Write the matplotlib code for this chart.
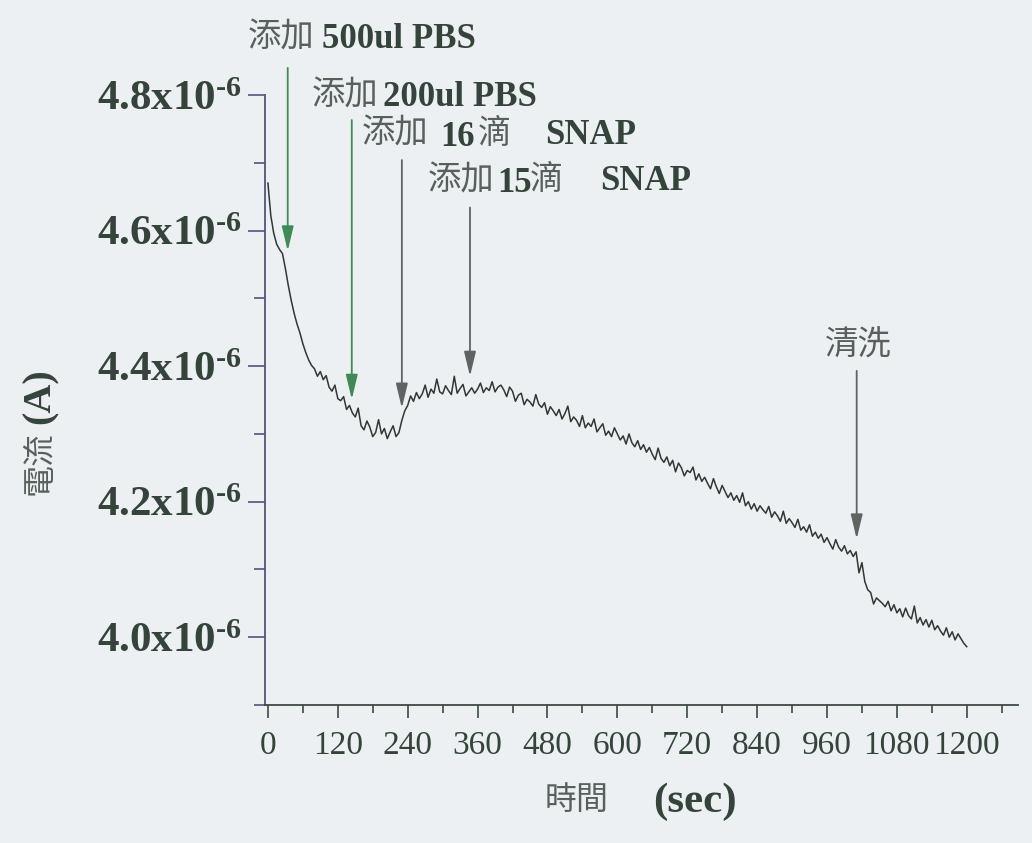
import numpy as np
import matplotlib
matplotlib.use('Agg')
import matplotlib.pyplot as plt
import matplotlib.ticker as mticker

# 時間軸 (sec)，每 5 秒一點
times = np.arange(0, 1201, 5)

# 電流 (單位 10^-6 A)
current_ua = [
    4.670, 4.622, 4.596, 4.580, 4.572, 4.566, 4.544, 4.519, 4.497, 4.478,
    4.462, 4.449, 4.433, 4.420, 4.409, 4.401, 4.396, 4.385, 4.392, 4.380,
    4.386, 4.369, 4.363, 4.372, 4.352, 4.349, 4.355, 4.336, 4.342, 4.331,
    4.325, 4.338, 4.312, 4.306, 4.319, 4.310, 4.296, 4.302, 4.321, 4.300,
    4.308, 4.293, 4.303, 4.312, 4.296, 4.302, 4.320, 4.334, 4.342, 4.356,
    4.348, 4.361, 4.352, 4.359, 4.372, 4.354, 4.366, 4.360, 4.381, 4.362,
    4.359, 4.371, 4.364, 4.358, 4.385, 4.360, 4.367, 4.373, 4.356, 4.362,
    4.368, 4.360, 4.366, 4.375, 4.361, 4.368, 4.364, 4.377, 4.362, 4.369,
    4.372, 4.365, 4.355, 4.369, 4.363, 4.348, 4.357, 4.360, 4.343, 4.351,
    4.347, 4.341, 4.358, 4.344, 4.339, 4.346, 4.329, 4.340, 4.334, 4.327,
    4.336, 4.322, 4.330, 4.341, 4.318, 4.325, 4.320, 4.311, 4.327, 4.309,
    4.316, 4.311, 4.322, 4.303, 4.309, 4.315, 4.298, 4.304, 4.296, 4.309,
    4.300, 4.291, 4.297, 4.285, 4.300, 4.287, 4.281, 4.290, 4.277, 4.284,
    4.273, 4.280, 4.270, 4.262, 4.279, 4.264, 4.258, 4.266, 4.253, 4.261,
    4.244, 4.257, 4.250, 4.238, 4.246, 4.243, 4.251, 4.232, 4.241, 4.230,
    4.236, 4.227, 4.219, 4.234, 4.222, 4.212, 4.224, 4.215, 4.206, 4.213,
    4.202, 4.209, 4.199, 4.213, 4.194, 4.200, 4.189, 4.197, 4.186, 4.194,
    4.188, 4.183, 4.193, 4.177, 4.185, 4.179, 4.171, 4.186, 4.168, 4.175,
    4.169, 4.162, 4.174, 4.158, 4.163, 4.155, 4.166, 4.149, 4.155, 4.146,
    4.152, 4.140, 4.147, 4.138, 4.130, 4.144, 4.133, 4.127, 4.135, 4.123,
    4.128, 4.119, 4.126, 4.095, 4.110, 4.082, 4.070, 4.066, 4.049, 4.058,
    4.054, 4.050, 4.045, 4.053, 4.039, 4.048, 4.036, 4.042, 4.030, 4.043,
    4.032, 4.027, 4.046, 4.021, 4.029, 4.018, 4.026, 4.015, 4.025, 4.011,
    4.017, 4.009, 4.003, 4.014, 4.000, 4.008, 3.996, 4.005, 3.998, 3.991,
    3.986,
]

# 事件標記：時間、箭頭起點/終點 (10^-6 A)
event_times = [34, 144, 230, 347, 1011]
event_tail = [4.840, 4.763, 4.704, 4.634, 4.393]
event_tip = [4.570, 4.351, 4.338, 4.385, 4.145]
event_colors = ['#3f8a55', '#3f8a55', '#5d6461', '#5d6461', '#5d6461']

x_ticks = [0, 120, 240, 360, 480, 600, 720, 840, 960, 1080, 1200]
y_ticks = [4.0, 4.2, 4.4, 4.6, 4.8]

BG = '#edf0f2'
LINE = '#2f3833'
TXT = '#35443b'
CJK = '#58605c'

plt.rcParams['font.family'] = ['Liberation Serif', 'Noto Sans CJK TC']
plt.rcParams['mathtext.fontset'] = 'custom'
plt.rcParams['mathtext.rm'] = 'Liberation Serif'
plt.rcParams['mathtext.bf'] = 'Liberation Serif:bold'

W, H = 1032, 843
fig = plt.figure(figsize=(W / 100, H / 100), dpi=100, facecolor=BG)
ax = fig.add_axes([265 / W, 1 - 705 / H, (1018 - 265) / W, (705 - 95) / H])
ax.set_facecolor(BG)

ax.plot(times, np.array(current_ua) * 1e-6, color=LINE, lw=1.1)

ax.set_xlim(-5, 1288)
ax.set_ylim(3.9e-6, 4.8e-6)

for s in ['top', 'right']:
    ax.spines[s].set_visible(False)
ax.spines['left'].set_color('#50557a')
ax.spines['bottom'].set_color('#3c4a42')
ax.spines['left'].set_linewidth(1.3)
ax.spines['bottom'].set_linewidth(1.3)

ax.set_xticks(x_ticks)
ax.xaxis.set_minor_locator(mticker.MultipleLocator(60))
ax.set_yticks([v * 1e-6 for v in y_ticks])
ax.yaxis.set_minor_locator(mticker.MultipleLocator(0.1e-6))
ax.yaxis.set_major_formatter(mticker.FuncFormatter(
    lambda v, p: '$\\mathbf{%.1fx10^{\u2010 6}}$' % (v * 1e6)))

ax.tick_params(axis='y', which='major', length=12, width=1.2, color='#50557a',
               labelsize=31, labelcolor=TXT, pad=5)
ax.tick_params(axis='y', which='minor', length=8, width=1.2, color='#50557a')
ax.tick_params(axis='x', which='major', length=9, width=1.2, color='#3c4a42',
               labelsize=24, labelcolor=TXT, pad=9)
ax.tick_params(axis='x', which='minor', length=6, width=1.2, color='#3c4a42')

# 事件箭頭
for t, a, b, c in zip(event_times, event_tail, event_tip, event_colors):
    ax.annotate('', xy=(t, b * 1e-6), xytext=(t, a * 1e-6),
                arrowprops=dict(arrowstyle='-|>,head_length=0.75,head_width=0.18',
                                color=c, lw=1.3, shrinkA=0, shrinkB=0,
                                mutation_scale=20),
                annotation_clip=False)


def put(x, y, s, cjk=False, **kw):
    if cjk:
        fig.text(x / W, 1 - y / H, s, family='Noto Sans CJK TC', color=CJK,
                 fontsize=24, va='center', **kw)
    else:
        fig.text(x / W, 1 - y / H, s, family='Liberation Serif', color=TXT,
                 fontsize=25, fontweight='bold', va='center', **kw)


put(248, 37, '添加', cjk=True)
put(322, 39, '500ul PBS')
put(312, 95, '添加', cjk=True)
put(383, 97, '200ul PBS')
put(362, 133, '添加', cjk=True)
put(440, 137, '16')
put(478, 133, '滴', cjk=True)
put(545, 135, 'SNAP')
put(428, 180, '添加', cjk=True)
put(497, 183, '15')
put(530, 180, '滴', cjk=True)
put(600, 182, 'SNAP')
put(825, 345, '清洗', cjk=True)

# 軸標題
fig.text(577 / W, 1 - 800 / H, '時間', family='Noto Sans CJK TC', color=CJK,
         fontsize=23, ha='center', va='center')
fig.text(695 / W, 1 - 802 / H, '(sec)', family='Liberation Serif', color=TXT,
         fontsize=31, fontweight='bold', ha='center', va='center')
fig.text(40 / W, 1 - 463 / H, '電流', family='Noto Sans CJK TC', color=CJK,
         fontsize=23, rotation=90, ha='center', va='center')
fig.text(40 / W, 1 - 396 / H, '(A)', family='Liberation Serif', color=TXT,
         fontsize=29, fontweight='bold', rotation=90, ha='center', va='center')

fig.savefig('out.png', dpi=100, facecolor=BG)
